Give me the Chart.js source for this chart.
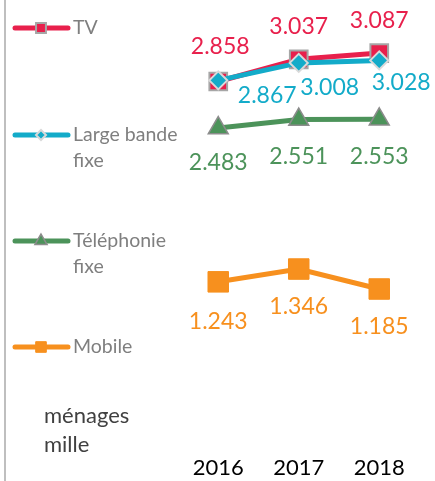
<!DOCTYPE html>
<html>
<head>
<meta charset="utf-8">
<script src="https://cdn.jsdelivr.net/npm/chart.js@4.4.1/dist/chart.umd.min.js"></script>
<style>
  html, body { margin: 0; padding: 0; background: #fff; }
  #wrap { position: relative; width: 435px; height: 481px; }
</style>
</head>
<body>
<div id="wrap"><canvas id="menagesChart" width="435" height="481"></canvas></div>
<script>
// households (thousands) per service
var years = ['2016', '2017', '2018'];
var tvValues = [2.858, 3.037, 3.087];
var largeBandeValues = [2.867, 3.008, 3.028];
var telephonieValues = [2.483, 2.551, 2.553];
var mobileValues = [1.243, 1.346, 1.185];
var unitLines = ['ménages', 'mille'];

var FONT = 'Lato, "Open Sans", sans-serif';

// where each value label sits relative to its point
var labelOffsets = {
    'TV': [[2, -35], [0, -33], [0, -33]],
    'Large bande\nfixe': [[49, 15], [31, 25], [22, 22]],
    'Téléphonie\nfixe': [[0, 35], [0, 37], [0, 37]],
    'Mobile': [[0, 40], [0, 38], [0, 38]]
};

var valueLabels = {
    id: 'valueLabels',
    afterDatasetsDraw: function (chart) {
        var ctx = chart.ctx;
        ctx.save();
        ctx.font = '23px ' + FONT;
        ctx.textAlign = 'center';
        ctx.textBaseline = 'middle';
        chart.data.datasets.forEach(function (ds, i) {
            var meta = chart.getDatasetMeta(i);
            var offs = labelOffsets[ds.label];
            ctx.fillStyle = ds.borderColor;
            meta.data.forEach(function (pt, j) {
                ctx.fillText(ds.data[j].toFixed(3), pt.x + offs[j][0], pt.y + offs[j][1]);
            });
        });
        ctx.restore();
    }
};

// legend down the left side, plus the frame line and unit text
var sideLegend = {
    id: 'sideLegend',
    afterDraw: function (chart) {
        var ctx = chart.ctx;
        var rows = [28, 135, 241, 347];
        var order = [1, 0, 2, 3];
        ctx.save();
        ctx.strokeStyle = '#bfbfbf';
        ctx.lineWidth = 2;
        ctx.beginPath();
        ctx.moveTo(5, 0);
        ctx.lineTo(5, 481);
        ctx.stroke();

        order.forEach(function (idx, r) {
            var ds = chart.data.datasets[idx];
            var y = rows[r];
            ctx.strokeStyle = ds.borderColor;
            ctx.lineWidth = 5;
            ctx.lineCap = 'round';
            ctx.beginPath();
            ctx.moveTo(15, y);
            ctx.lineTo(68, y);
            ctx.stroke();

            ctx.lineCap = 'butt';
            ctx.fillStyle = ds.pointBackgroundColor;
            ctx.strokeStyle = ds.pointBorderColor;
            ctx.lineWidth = ds.pointBorderWidth;
            Chart.helpers.drawPoint(ctx, {
                pointStyle: ds.pointStyle,
                radius: ds.legendRadius,
                borderWidth: ds.pointBorderWidth
            }, 41, y);

            ctx.fillStyle = '#7f7f7f';
            ctx.font = '19.5px ' + FONT;
            ctx.textAlign = 'left';
            ctx.textBaseline = 'middle';
            ds.label.split('\n').forEach(function (line, k) {
                ctx.fillText(line, 73, y + k * 26);
            });
        });

        ctx.fillStyle = '#404040';
        ctx.font = '22px ' + FONT;
        ctx.textAlign = 'left';
        ctx.textBaseline = 'middle';
        unitLines.forEach(function (line, k) {
            ctx.fillText(line, 44, 416 + k * 29);
        });
        ctx.restore();
    }
};

new Chart(document.getElementById('menagesChart'), {
    type: 'line',
    data: {
        labels: years,
        datasets: [{
            label: 'Large bande\nfixe',
            data: largeBandeValues,
            order: 0,
            borderColor: '#13abc9',
            borderWidth: 5,
            pointStyle: 'rectRot',
            pointRadius: 9,
            pointBackgroundColor: '#13abc9',
            pointBorderColor: '#d9d9d9',
            pointBorderWidth: 2,
            legendRadius: 5
        }, {
            label: 'TV',
            data: tvValues,
            order: 1,
            borderColor: '#e8204c',
            borderWidth: 5,
            pointStyle: 'rect',
            pointRadius: 12.5,
            pointBackgroundColor: '#e8204c',
            pointBorderColor: '#a6a6a6',
            pointBorderWidth: 2,
            legendRadius: 7
        }, {
            label: 'Téléphonie\nfixe',
            data: telephonieValues,
            order: 2,
            borderColor: '#4c935a',
            borderWidth: 5,
            pointStyle: 'triangle',
            pointRadius: 11.5,
            pointBackgroundColor: '#4c935a',
            pointBorderColor: '#8c8c8c',
            pointBorderWidth: 1.5,
            legendRadius: 7
        }, {
            label: 'Mobile',
            data: mobileValues,
            order: 3,
            borderColor: '#f7901e',
            borderWidth: 5,
            pointStyle: 'rect',
            pointRadius: 14.5,
            pointBackgroundColor: '#f7901e',
            pointBorderColor: '#f7901e',
            pointBorderWidth: 1,
            legendRadius: 7.5
        }]
    },
    options: {
        responsive: false,
        animation: false,
        devicePixelRatio: 1,
        clip: false,
        layout: { padding: { left: 178, right: 13, top: 0, bottom: 1 } },
        plugins: {
            legend: { display: false },
            tooltip: { enabled: false }
        },
        elements: { line: { tension: 0 } },
        scales: {
            x: {
                offset: true,
                grid: { display: false, drawTicks: false },
                border: { display: false },
                afterFit: function (scale) { scale.height = 44; },
                ticks: {
                    padding: 19,
                    color: '#000',
                    font: { family: FONT, size: 22 }
                }
            },
            y: {
                display: false,
                min: 0,
                max: 3.39
            }
        }
    },
    plugins: [valueLabels, sideLegend]
});
</script>
</body>
</html>
